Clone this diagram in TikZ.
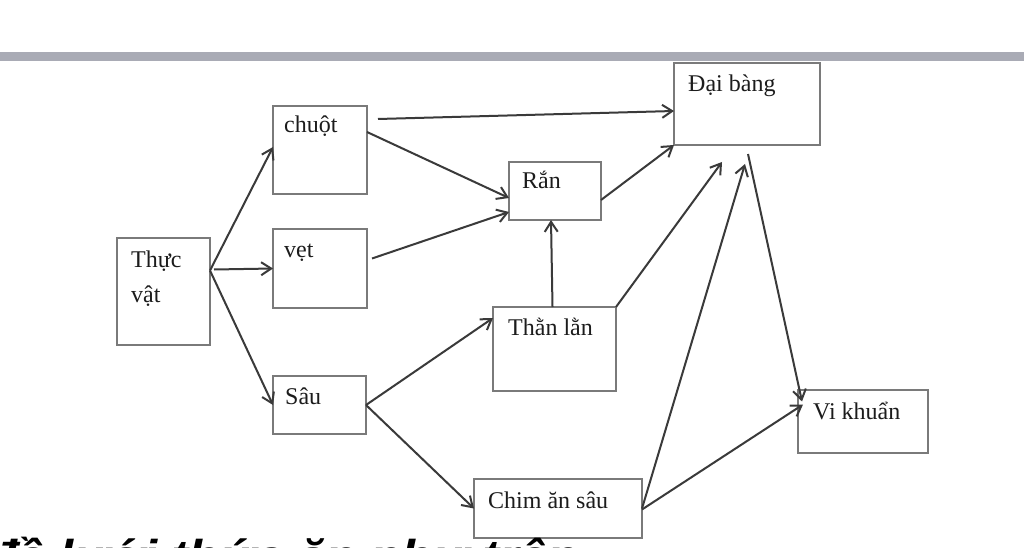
\documentclass[tikz,border=0pt]{standalone}
\usepackage{fontspec}
\usepackage{graphicx}
\setmainfont{Liberation Serif}
\setsansfont{Liberation Sans}
\usetikzlibrary{arrows.meta}
\definecolor{boxgray}{HTML}{7A7A7A}
\definecolor{arrgray}{HTML}{3A3A3A}
\definecolor{bargray}{HTML}{A9ABB5}
\definecolor{txt}{HTML}{1C1C1C}
\tikzset{
  box/.style={draw=boxgray, line width=2pt, inner sep=0pt, outer sep=0pt},
  lbl/.style={inner sep=0pt, text=txt, font=\fontsize{24}{35}\selectfont, align=left},
  arr/.style={draw=arrgray, line width=2pt, -{Straight Barb[length=10pt,width=13pt,line width=2pt]}},
}
\begin{document}
\begin{tikzpicture}[x=1pt,y=-1pt]
\useasboundingbox (0,0) rectangle (1024,548);
\clip (0,0) rectangle (1024,548);
\fill[white] (0,0) rectangle (1024,548);
\fill[bargray] (0,52) rectangle (1024,61);

% boxes
\node[box, minimum width=93pt, minimum height=107pt] (thuc) at (163.5,291.5) {};
\node[box, minimum width=94pt, minimum height=88pt] (chuot) at (320,150) {};
\node[box, minimum width=94pt, minimum height=79pt] (vet) at (320,268.5) {};
\node[box, minimum width=93pt, minimum height=58pt] (sau) at (319.5,405) {};
\node[box, minimum width=146pt, minimum height=82pt] (daibang) at (747,104) {};
\node[box, minimum width=92pt, minimum height=58pt] (ran) at (555,191) {};
\node[box, minimum width=123pt, minimum height=84pt] (than) at (554.5,349) {};
\node[box, minimum width=130pt, minimum height=63pt] (vikhuan) at (863,421.5) {};
\node[box, minimum width=168pt, minimum height=59pt] (chim) at (558,508.5) {};

% labels
\node[lbl, anchor=north west] (thuc-l) at (131,250.6) {Thực\\vật};
\node[lbl, anchor=base west] (chuot-l) at (284,133) {chuột};
\node[lbl, anchor=base west] (vet-l) at (284,257) {vẹt};
\node[lbl, anchor=base west] (sau-l) at (285,404) {Sâu};
\node[lbl, anchor=base west] (daibang-l) at (688,92) {Đại bàng};
\node[lbl, anchor=base west] (ran-l) at (522,189) {Rắn};
\node[lbl, anchor=base west] (than-l) at (508,335) {Thằn lằn};
\node[lbl, anchor=base west] (vikhuan-l) at (813,419) {Vi khuẩn};
\node[lbl, anchor=base west] (chim-l) at (488,508) {Chim ăn sâu};

% connectors
\draw[arr] ([yshift=21pt]thuc.east) -- ([yshift=3pt]chuot.west);
\draw[arr] ([xshift=4pt,yshift=22pt]thuc.east) -- (vet.west);
\draw[arr] ([yshift=21pt]thuc.east) -- (sau.west);
\draw[arr] ([xshift=11pt,yshift=31pt]chuot.east) -- ([yshift=-7pt]daibang.west);
\draw[arr] ([yshift=18pt]chuot.east) -- ([yshift=-7pt]ran.west);
\draw[arr] ([xshift=5pt,yshift=10pt]vet.east) -- ([yshift=-21pt]ran.west);
\draw[arr] ([yshift=-9pt]ran.east) -- (daibang.south west);
\draw[arr] ([xshift=-2pt]than.north) -- ([xshift=-4pt]ran.south);
\draw[arr] (than.north east) -- ([xshift=-25pt,yshift=-17pt]daibang.south);
\draw[arr] (chim.east) -- ([xshift=-2pt,yshift=-19pt]daibang.south);
\draw[arr] ([xshift=1pt,yshift=-9pt]daibang.south) -- ([xshift=4pt,yshift=20pt]vikhuan.west);
\draw[arr] ([yshift=-1pt]chim.east) -- ([xshift=5pt,yshift=17pt]vikhuan.west);
\draw[arr] (sau.east) -- ([yshift=31pt]than.west);
\draw[arr] (sau.east) -- (chim.west);

% cut-off caption
\node[anchor=base west, inner sep=0pt, text=black, font=\fontsize{46}{46}\sffamily\bfseries\itshape] (cap) at (-14,572) {\scalebox{1.1}[1]{đề lưới thức ăn như trên}};
\end{tikzpicture}
\end{document}
